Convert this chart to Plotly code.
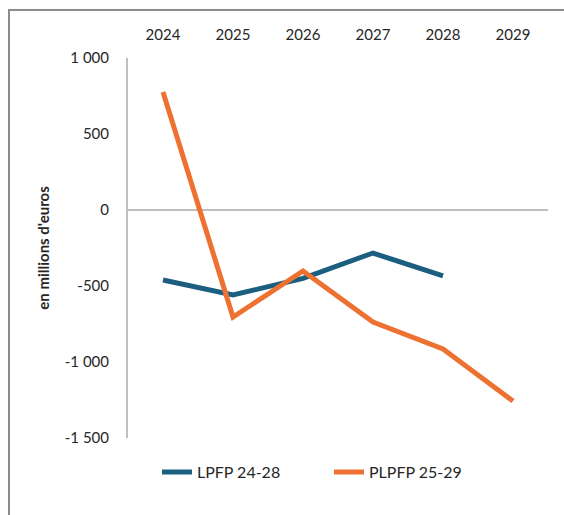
import plotly.graph_objects as go

years = ["2024", "2025", "2026", "2027", "2028", "2029"]
lpfp_years = ["2024", "2025", "2026", "2027", "2028"]
lpfp_values = [-461, -559, -450, -283, -434]
plpfp_values = [776, -704, -401, -737, -914, -1257]
y_ticks = [1000, 500, 0, -500, -1000, -1500]
y_tick_labels = ["1 000", "500", "0", "-500", "-1 000", "-1 500"]

BLUE = "#1B5E80"
ORANGE = "#ED7232"
FONT = "Lato"

fig = go.Figure()
fig.add_trace(go.Scatter(x=lpfp_years, y=lpfp_values, mode="lines", name="LPFP 24-28",
                         line=dict(color=BLUE, width=5)))
fig.add_trace(go.Scatter(x=years, y=plpfp_values, mode="lines", name="PLPFP 25-29",
                         line=dict(color=ORANGE, width=5)))

W, H = 564, 515
L, R, T, B = 128, 16, 58, 77
fig.update_layout(
    width=W, height=H,
    margin=dict(l=L, r=R, t=T, b=B, autoexpand=False),
    paper_bgcolor="white", plot_bgcolor="white",
    font=dict(family=FONT, size=15, color="#262626"),
    showlegend=True,
    legend=dict(orientation="h", x=0.069, xanchor="left", y=-0.045, yanchor="top",
                font=dict(size=16, color="#262626"), entrywidth=127, entrywidthmode="pixels",
                tracegroupgap=0),
    xaxis=dict(type="category", categoryarray=years, side="top", showgrid=False,
               showline=False, zeroline=False, ticks="", ticklabelstandoff=14,
               range=[-0.5, 5.5], automargin=False),
    yaxis=dict(range=[-1500, 1000], tickvals=y_ticks, ticktext=y_tick_labels,
               showgrid=False, zeroline=True, zerolinecolor="#BFBFBF", zerolinewidth=2,
               showline=True, linecolor="#BFBFBF", linewidth=2, ticks="",
               ticklabelstandoff=14, automargin=False,
               title=dict(text="<b>en millions d'euros</b>", font=dict(size=15, color="#262626"),
                          standoff=12)),
)

# outer chart frame (top and left edges visible)
pw = W - L - R
ph = H - T - B
x0 = (9 - L) / pw
y1 = (H - 10 - B) / ph
fig.add_shape(type="rect", xref="paper", yref="paper",
              x0=x0, x1=(W + 20 - L) / pw, y0=(-20 - B) / ph, y1=y1,
              line=dict(color="#8C8C8C", width=2), layer="below")

fig.write_html("out.html", config={"displayModeBar": False},
               post_script="document.body.style.margin='0';document.body.style.overflow='hidden';")
